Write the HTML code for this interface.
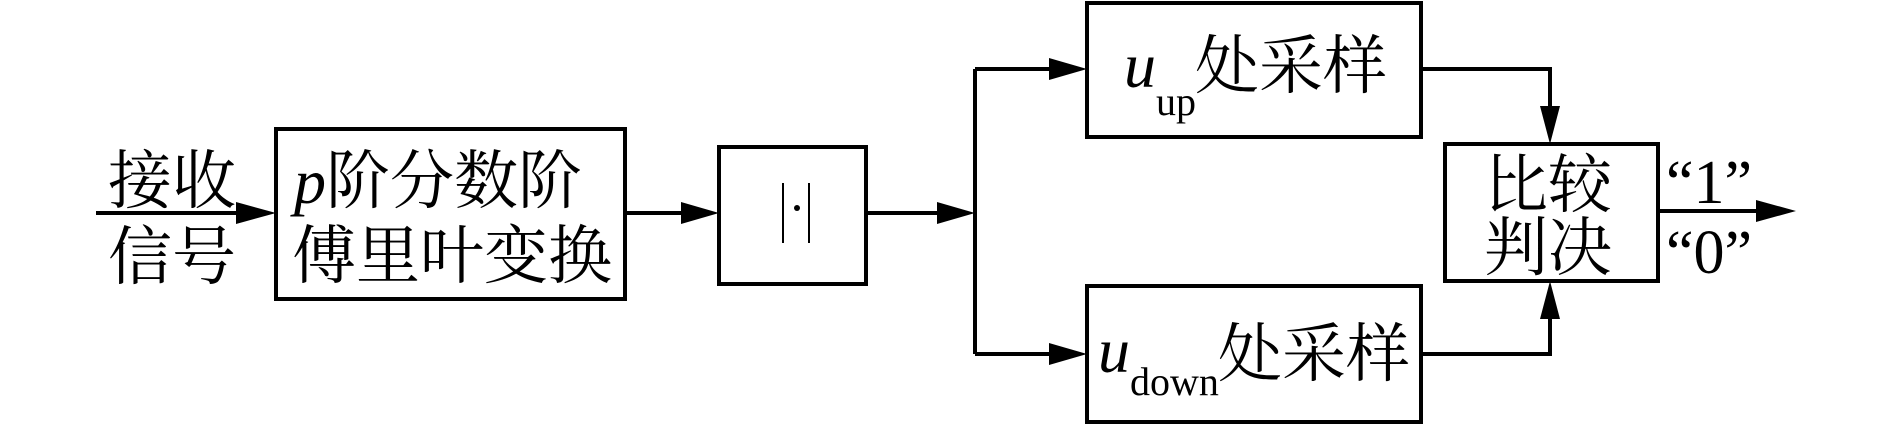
<!DOCTYPE html>
<html><head><meta charset="utf-8"><style>
html,body{margin:0;padding:0;background:#fff;width:1890px;height:425px;overflow:hidden}
svg{display:block}
.c{font-family:"Liberation Serif","Noto Serif CJK SC",serif;font-size:64px;fill:#000}
.l{font-family:"Liberation Serif",serif;fill:#000}
</style></head><body>
<svg width="1890" height="425" viewBox="0 0 1890 425" xmlns="http://www.w3.org/2000/svg">
<g stroke="#000" stroke-width="4" fill="none">
<line x1="96" y1="213" x2="240" y2="213"/>
<rect x="276" y="129" width="349" height="170"/>
<line x1="625" y1="213" x2="685" y2="213"/>
<rect x="719" y="147" width="147" height="137"/>
<line x1="866" y1="213" x2="945" y2="213"/>
<line x1="975" y1="69" x2="975" y2="354"/>
<line x1="975" y1="69" x2="1050" y2="69"/>
<line x1="975" y1="354" x2="1050" y2="354"/>
<rect x="1087" y="3" width="334" height="134"/>
<rect x="1087" y="286" width="334" height="136"/>
<polyline points="1421,69 1550,69 1550,110"/>
<polyline points="1421,354 1550,354 1550,315"/>
<rect x="1445" y="144" width="213" height="137"/>
<line x1="1658" y1="211" x2="1760" y2="211"/>
<line x1="783" y1="183" x2="783" y2="243" stroke-width="2"/>
<line x1="809" y1="183" x2="809" y2="243" stroke-width="2"/>
</g>
<g fill="#000">
<polygon points="276,213 236,202 236,224"/>
<polygon points="719,213 681,202 681,224"/>
<polygon points="975,213 937,202 937,224"/>
<polygon points="1087,69 1049,58 1049,80"/>
<polygon points="1087,354 1049,343 1049,365"/>
<polygon points="1550,144 1540,106 1560,106"/>
<polygon points="1550,281 1540,319 1560,319"/>
<polygon points="1796,211 1756,200 1756,222"/>
<circle cx="797" cy="208" r="3"/>
</g>
<text class="c" x="108" y="203">接收</text>
<text class="c" x="108" y="279">信号</text>
<text class="c" x="294" y="203"><tspan font-style="italic">p</tspan>阶分数阶</text>
<text class="c" x="292" y="278">傅里叶变换</text>
<text class="l" x="1124" y="87" font-size="64" font-style="italic">u</text>
<text class="l" x="1156" y="115" font-size="40">up</text>
<text class="c" x="1195" y="88">处采样</text>
<text class="l" x="1098" y="372" font-size="64" font-style="italic">u</text>
<text class="l" x="1130" y="395" font-size="40">down</text>
<text class="c" x="1218" y="376">处采样</text>
<text class="c" x="1484" y="207">比较</text>
<text class="c" x="1484" y="270">判决</text>
<text class="l" x="1666" y="203" font-size="62">“1”</text>
<text class="l" x="1666" y="273" font-size="62">“0”</text>
</svg>
</body></html>
